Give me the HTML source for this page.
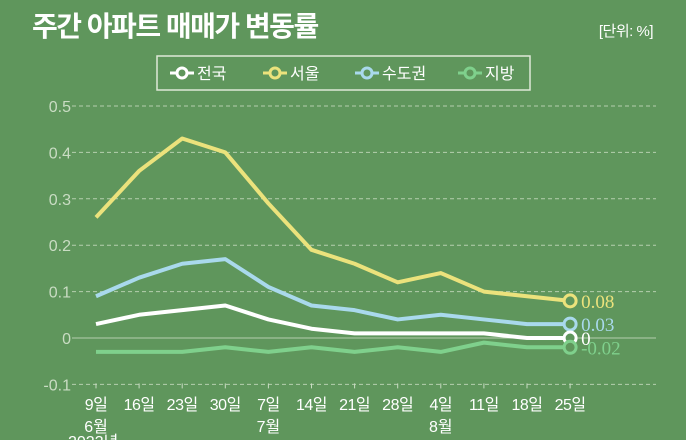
<!DOCTYPE html>
<html><head><meta charset="utf-8">
<style>
body{margin:0;width:686px;height:440px;overflow:hidden;background:#5f965c;font-family:"Liberation Sans","Noto Sans CJK KR",sans-serif;}
svg{display:block}
</style></head>
<body>
<svg width="686" height="440">
<text x="32" y="36" font-size="28" font-weight="bold" fill="#fff" font-family="Liberation Sans, Noto Sans CJK KR, sans-serif" letter-spacing="-1.5">주간 아파트 매매가 변동률</text>
<text x="653" y="36" font-size="15" fill="#fff" text-anchor="end" font-family="Liberation Sans, Noto Sans CJK KR, sans-serif" letter-spacing="-0.5">[단위: %]</text>
<rect x="157" y="56" width="373" height="34" fill="none" stroke="#dfe8d8" stroke-width="1.5"/>
<g id="legend"></g>
<g id="grid"></g>
<g id="series"></g>
<g id="xaxis"></g>
<text x="68" y="447" font-size="16" fill="#fff">2023년</text>
</svg>
<script>
const categories=['9일','16일','23일','30일','7일','14일','21일','28일','4일','11일','18일','25일'];
const months={0:'6월',4:'7월',8:'8월'};
const seriesNames=['서울','수도권','전국','지방'];
const seoul=[0.26,0.36,0.43,0.40,0.29,0.19,0.16,0.12,0.14,0.10,0.09,0.08];
const metro=[0.09,0.13,0.16,0.17,0.11,0.07,0.06,0.04,0.05,0.04,0.03,0.03];
const nation=[0.03,0.05,0.06,0.07,0.04,0.02,0.01,0.01,0.01,0.01,0,0];
const region=[-0.03,-0.03,-0.03,-0.02,-0.03,-0.02,-0.03,-0.02,-0.03,-0.01,-0.02,-0.02];
const endLabels=['0.08','0.03','0','-0.02'];
const yTicks=[0.5,0.4,0.3,0.2,0.1,0,-0.1];
const yTickLabels=['0.5','0.4','0.3','0.2','0.1','0','-0.1'];
const colors=['#ebe27c','#a9d9ec','#ffffff','#7fd08c'];
const NS='http://www.w3.org/2000/svg';
const y=v=>338-v*464;
const x=i=>96+i*43.1;
function mk(tag,attrs,parent){const e=document.createElementNS(NS,tag);for(const k in attrs)e.setAttribute(k,attrs[k]);parent.appendChild(e);return e;}
const grid=document.getElementById('grid');
yTicks.forEach((t,i)=>{
  const l=mk('line',{x1:72,x2:656,y1:y(t),y2:y(t),stroke:'#b5cfae','stroke-width':1,'stroke-dasharray':t===0?'':'4,3'},grid);
  
  
  const tx=mk('text',{x:71,y:y(t)+6,'font-size':16,fill:'#c9dcc3','text-anchor':'end'},grid);
  tx.textContent=yTickLabels[i];
  
  
});
const xa=document.getElementById('xaxis');
categories.forEach((c,i)=>{
  const t=mk('line',{x1:x(i),x2:x(i),y1:y(-0.1)-1,y2:y(-0.1)+4,stroke:'#c9dcc3'},xa);
  
  
  const tx=mk('text',{x:x(i),y:410,'font-size':16,fill:'#fff','text-anchor':'middle','letter-spacing':'-0.5'},xa);
  tx.textContent=c;
  
  
  if(months[i]){const m=mk('text',{x:x(i),y:432,'font-size':16,fill:'#fff','text-anchor':'middle'},xa);m.textContent=months[i];
  
  }
});
const sg=document.getElementById('series');
[seoul,metro,nation,region].forEach((d,s)=>{
  const p=mk('polyline',{points:d.map((v,i)=>x(i)+','+y(v)).join(' '),fill:'none',stroke:colors[s],'stroke-width':4,'stroke-linejoin':'round'},sg);
  
  
  const n=d.length-1;
  const c=mk('circle',{cx:x(n),cy:y(d[n]),r:6,fill:'#5f965c',stroke:colors[s],'stroke-width':3},sg);
  
  
  const t=mk('text',{x:x(n)+11,y:y(d[n])+7,'font-size':19,fill:colors[s],'font-family':'Liberation Serif, serif'},sg);
  t.textContent=endLabels[s];
  
  
});
const lg=document.getElementById('legend');
const lx=[182,275,367,470];const lorder=[2,0,1,3];const lnames=['전국','서울','수도권','지방'];
lorder.forEach((s,k)=>{
  const g=mk('g',{},lg);
  
  
  mk('line',{x1:lx[k]-12,x2:lx[k]+12,y1:73,y2:73,stroke:colors[s],'stroke-width':3},g);
  mk('circle',{cx:lx[k],cy:73,r:5,fill:'#5f965c',stroke:colors[s],'stroke-width':3},g);
  const t=mk('text',{x:lx[k]+15,y:79,'font-size':16,fill:'#fff'},g);t.textContent=lnames[k];
});
</script>
</body></html>
